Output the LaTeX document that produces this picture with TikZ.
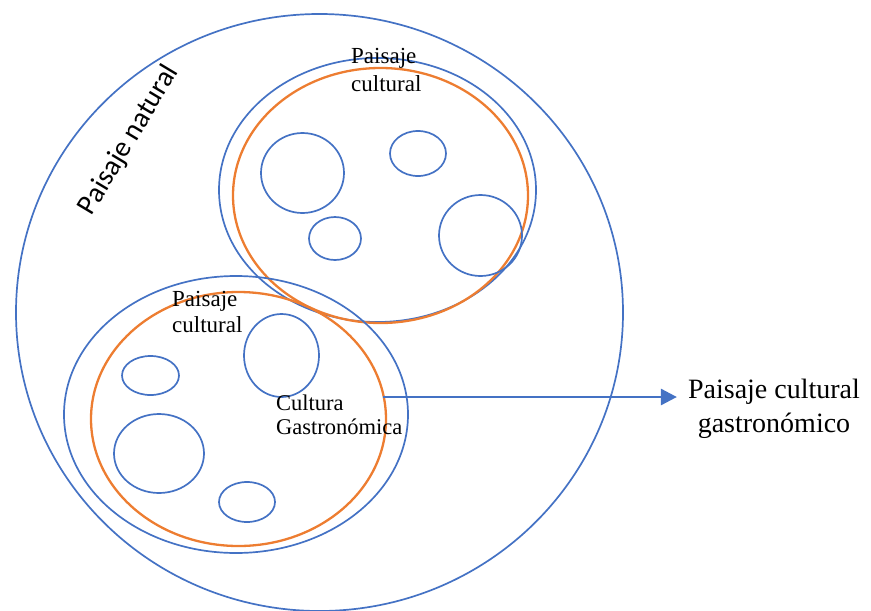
\documentclass[tikz,border=0pt]{standalone}
\usepackage{fontspec}
\setmainfont{Liberation Serif}
\newfontfamily\calib{Carlito}
\usetikzlibrary{arrows.meta}
\definecolor{oblue}{HTML}{4472C4}
\definecolor{oorange}{HTML}{ED7D31}
\tikzset{
  bline/.style={draw=oblue, line width=1.7pt},
  oline/.style={draw=oorange, line width=2.3pt},
  lbl/.style={inner sep=0pt, align=left, anchor=north west},
}
\begin{document}
\begin{tikzpicture}[x=1pt,y=-1pt]
\useasboundingbox (0,0) rectangle (871,611);
% outer landscape
\draw[bline] (319.5,312.5) ellipse [x radius=303.5pt, y radius=298.5pt];
% upper cultural landscape
\draw[bline] (377.5,190) ellipse [x radius=158.5pt, y radius=132pt];
\draw[oline] (380.5,195.5) ellipse [x radius=147.5pt, y radius=127.5pt];
\draw[bline] (302.5,173) ellipse [x radius=41.5pt, y radius=40pt];
\draw[bline] (418,153.5) ellipse [x radius=28pt, y radius=22.5pt];
\draw[bline] (335,238.5) ellipse [x radius=26pt, y radius=21.5pt];
\draw[bline] (480.5,235.5) ellipse [x radius=41.5pt, y radius=40.5pt];
% lower cultural landscape
\draw[bline] (236,414.5) ellipse [x radius=172pt, y radius=138.5pt];
\draw[oline] (238.5,419) ellipse [x radius=147.5pt, y radius=127pt];
\draw[bline] (150.5,375.5) ellipse [x radius=28.5pt, y radius=19.5pt];
\draw[bline] (281.5,355.5) ellipse [x radius=37.5pt, y radius=41.5pt];
\draw[bline] (159,453.5) ellipse [x radius=45pt, y radius=39.5pt];
\draw[bline] (247,502) ellipse [x radius=28pt, y radius=20pt];
% labels
\node[rotate=59, inner sep=0pt, font=\calib\fontsize{28.5}{32}\selectfont] (nat) at (129,140) {Paisaje natural};
\node[lbl, font=\fontsize{23}{28}\selectfont] (pc1) at (351,48.5) {Paisaje\\cultural};
\node[lbl, font=\fontsize{23}{26}\selectfont] (pc2) at (172,291.5) {Paisaje\\cultural};
\node[lbl, font=\fontsize{22.5}{24}\selectfont] (cg) at (276,394.5) {Cultura\\Gastronómica};
\node[inner sep=0pt, align=center, anchor=north, font=\fontsize{28}{34}\selectfont] (pcg) at (774,379) {Paisaje cultural\\gastronómico};
% arrow
\coordinate (astart) at (383,397);
\draw[draw=oblue, line width=2.8pt, -{Triangle[length=16pt,width=16pt]}] (astart) -- ([xshift=-11pt]pcg.west |- astart);
\end{tikzpicture}
\end{document}
